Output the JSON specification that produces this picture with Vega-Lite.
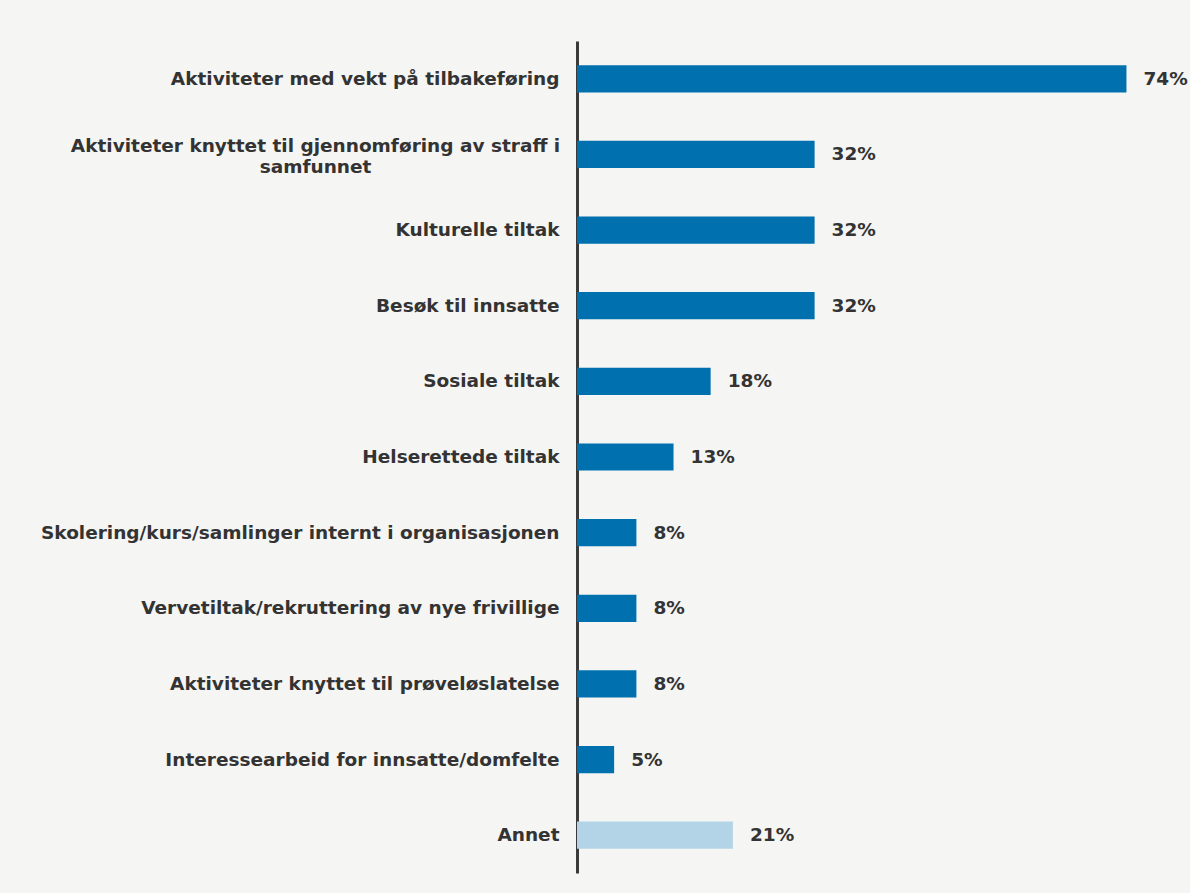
{
  "$schema": "https://vega.github.io/schema/vega-lite/v6.json",
  "autosize": "none",
  "width": 594,
  "height": 832,
  "padding": {"left": 577, "top": 41, "right": 19, "bottom": 20},
  "background": "#f5f5f3",
  "config": {"view": {"stroke": null}, "font": "DejaVu Sans"},
  "data": {
    "values": [
      {"kategori": "Aktiviteter med vekt på tilbakeføring", "andel": 0.74, "gruppe": "a"},
      {"kategori": "Aktiviteter knyttet til gjennomføring av straff i|samfunnet", "andel": 0.32, "gruppe": "a"},
      {"kategori": "Kulturelle tiltak", "andel": 0.32, "gruppe": "a"},
      {"kategori": "Besøk til innsatte", "andel": 0.32, "gruppe": "a"},
      {"kategori": "Sosiale tiltak", "andel": 0.18, "gruppe": "a"},
      {"kategori": "Helserettede tiltak", "andel": 0.13, "gruppe": "a"},
      {"kategori": "Skolering/kurs/samlinger internt i organisasjonen", "andel": 0.08, "gruppe": "a"},
      {"kategori": "Vervetiltak/rekruttering av nye frivillige", "andel": 0.08, "gruppe": "a"},
      {"kategori": "Aktiviteter knyttet til prøveløslatelse", "andel": 0.08, "gruppe": "a"},
      {"kategori": "Interessearbeid for innsatte/domfelte", "andel": 0.05, "gruppe": "a"},
      {"kategori": "Annet", "andel": 0.21, "gruppe": "b"}
    ]
  },
  "encoding": {
    "y": {
      "field": "kategori",
      "type": "nominal",
      "sort": null,
      "scale": {"paddingInner": 0.64, "paddingOuter": 0.32},
      "axis": {
        "title": null,
        "ticks": false,
        "labelPadding": {"condition": {"test": "indexof(datum.value, '|') >= 0", "value": 262}, "value": 18},
        "labelAlign": {"condition": {"test": "indexof(datum.value, '|') >= 0", "value": "center"}, "value": "right"},
        "labelExpr": "split(datum.label, '|')",
        "labelOffset": {"condition": {"test": "indexof(datum.value, '|') >= 0", "value": -8}, "value": 0},
        "labelFont": "DejaVu Sans",
        "labelFontWeight": "bold",
        "labelFontSize": 18.5,
        "labelColor": "#333333",
        "labelLineHeight": 21,
        "labelLimit": 600,
        "domainColor": "#3a3a3a",
        "domainWidth": 3
      }
    },
    "x": {
      "field": "andel",
      "type": "quantitative",
      "scale": {"domain": [0, 0.8]},
      "axis": null
    }
  },
  "layer": [
    {
      "mark": {"type": "bar"},
      "encoding": {
        "color": {
          "field": "gruppe",
          "type": "nominal",
          "scale": {"domain": ["a", "b"], "range": ["#0070ae", "#b3d4e6"]},
          "legend": null
        }
      }
    },
    {
      "mark": {"type": "text", "align": "left", "baseline": "middle", "dx": 17, "font": "DejaVu Sans", "fontWeight": "bold", "fontSize": 18.5, "color": "#333333"},
      "encoding": {
        "text": {"field": "andel", "type": "quantitative", "format": ".0%"}
      }
    }
  ]
}
